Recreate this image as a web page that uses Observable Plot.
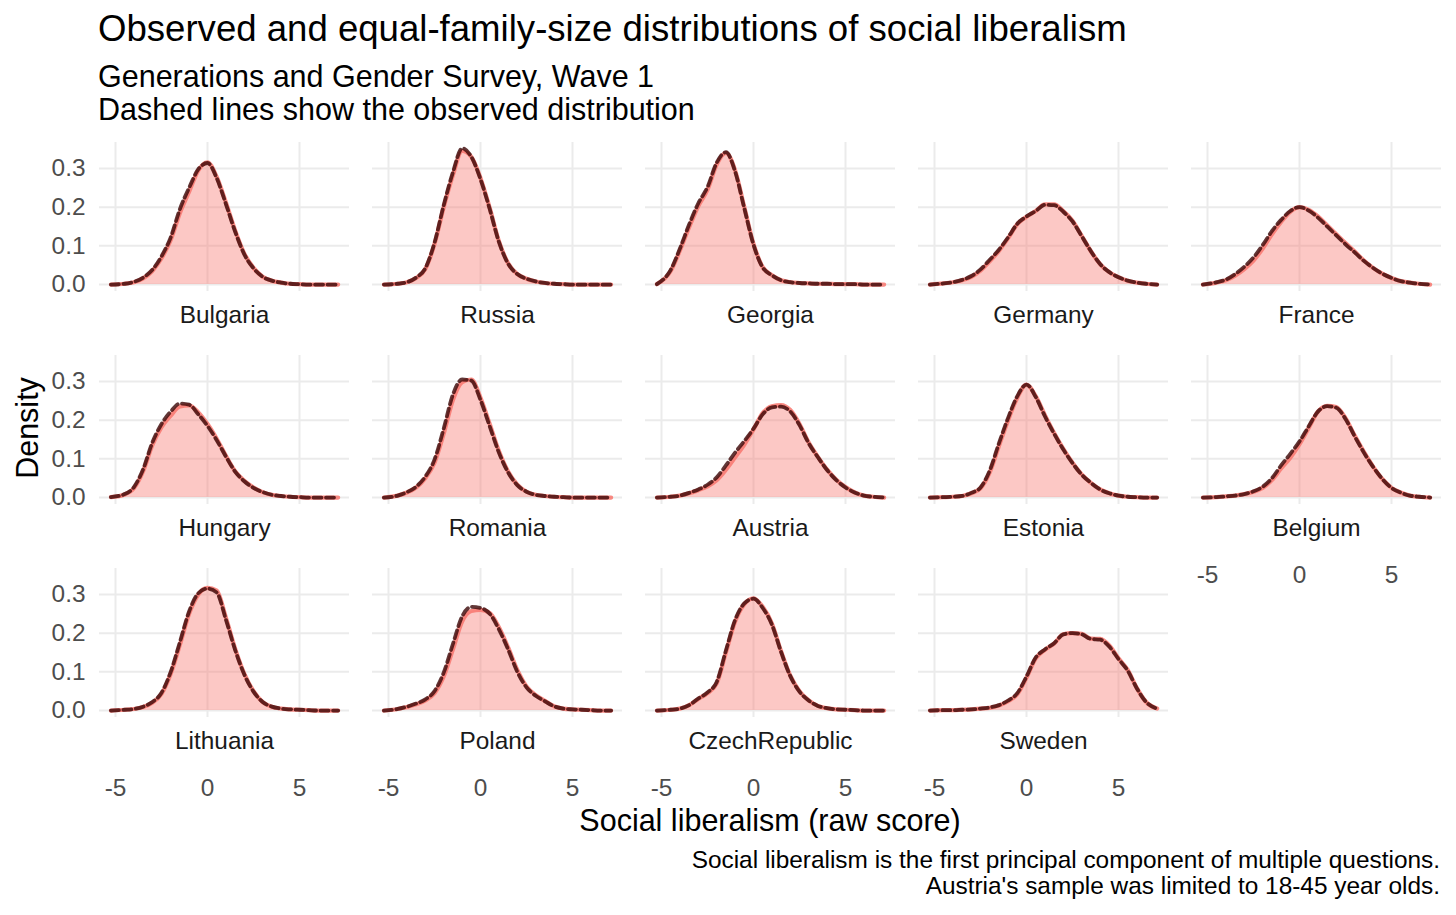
<!DOCTYPE html>
<html>
<head>
<meta charset="utf-8">
<script src="https://cdn.jsdelivr.net/npm/d3@7"></script>
<script src="https://cdn.jsdelivr.net/npm/@observablehq/plot@0.6"></script>
<style>
  body { margin: 0; background: #fff; }
  #wrap { position: relative; width: 1456px; height: 915px; font-family: "Liberation Sans", Arial, sans-serif; color: #000; }
  .abs { position: absolute; white-space: nowrap; }
</style>
</head>
<body>
<div id="wrap">
  <div class="abs" style="left:98px;top:11px;font-size:36.6px;line-height:36.6px;">Observed and equal-family-size distributions of social liberalism</div>
  <div class="abs" style="left:98px;top:60px;font-size:30.5px;line-height:33px;">Generations and Gender Survey, Wave 1<br>Dashed lines show the observed distribution</div>
  <div id="chart" class="abs" style="left:0;top:130px;"></div>
  <div class="abs" style="left:770px;top:805px;font-size:30.5px;line-height:30.5px;transform:translateX(-50%);">Social liberalism (raw score)</div>
  <div class="abs" style="left:27px;top:428px;font-size:30.5px;line-height:30.5px;transform:translate(-50%,-50%) rotate(-90deg);">Density</div>
  <div class="abs" style="right:16px;top:847px;font-size:24.4px;line-height:26px;text-align:right;">Social liberalism is the first principal component of multiple questions.<br>Austria's sample was limited to 18-45 year olds.</div>
</div>
<script>
// x grid of the density estimates (raw score)
const xs = [-5.25, -4.5, -4, -3.5, -3, -2.5, -2, -1.5, -1, -0.5, 0, 0.5, 1, 1.5, 2, 2.5, 3, 3.5, 4, 4.5, 5, 5.5, 6, 6.5, 7.1];

const countries = ["Bulgaria", "Russia", "Georgia", "Germany", "France",
  "Hungary", "Romania", "Austria", "Estonia", "Belgium",
  "Lithuania", "Poland", "CzechRepublic", "Sweden"];

// equal-family-size (solid) and observed (dashed) densities
const bulgariaEqual = [0, 0.002, 0.006, 0.016, 0.035, 0.068, 0.115, 0.185, 0.24, 0.295, 0.316, 0.278, 0.212, 0.14, 0.08, 0.043, 0.02, 0.01, 0.005, 0.002, 0.001, 0, 0, 0, 0];
const bulgariaObserved = [0, 0.002, 0.007, 0.018, 0.038, 0.073, 0.122, 0.195, 0.25, 0.298, 0.314, 0.275, 0.208, 0.137, 0.078, 0.042, 0.02, 0.01, 0.005, 0.002, 0.001, 0, 0, 0, 0];
const russiaEqual = [0, 0.002, 0.006, 0.017, 0.04, 0.105, 0.2, 0.283, 0.345, 0.33, 0.275, 0.198, 0.112, 0.055, 0.027, 0.015, 0.008, 0.004, 0.002, 0.001, 0, 0, 0, 0, 0];
const russiaObserved = [0, 0.002, 0.006, 0.018, 0.042, 0.108, 0.205, 0.29, 0.352, 0.33, 0.272, 0.195, 0.11, 0.054, 0.027, 0.015, 0.008, 0.004, 0.002, 0.001, 0, 0, 0, 0, 0];
const georgiaEqual = [0.001, 0.035, 0.088, 0.148, 0.203, 0.245, 0.31, 0.34, 0.295, 0.2, 0.105, 0.045, 0.024, 0.011, 0.006, 0.004, 0.003, 0.002, 0.002, 0.001, 0.001, 0.001, 0, 0, 0];
const georgiaObserved = [0.001, 0.038, 0.093, 0.155, 0.21, 0.252, 0.315, 0.342, 0.292, 0.197, 0.103, 0.044, 0.024, 0.011, 0.006, 0.004, 0.003, 0.002, 0.002, 0.001, 0.001, 0.001, 0, 0, 0];
const germanyEqual = [0, 0.003, 0.006, 0.011, 0.02, 0.036, 0.06, 0.087, 0.12, 0.156, 0.175, 0.19, 0.207, 0.207, 0.19, 0.165, 0.126, 0.086, 0.053, 0.032, 0.019, 0.01, 0.005, 0.002, 0];
const germanyObserved = [0, 0.003, 0.006, 0.012, 0.022, 0.039, 0.064, 0.09, 0.122, 0.157, 0.176, 0.19, 0.206, 0.205, 0.188, 0.163, 0.125, 0.086, 0.053, 0.032, 0.019, 0.01, 0.005, 0.002, 0];
const franceEqual = [0, 0.005, 0.011, 0.023, 0.04, 0.062, 0.093, 0.13, 0.162, 0.188, 0.2, 0.193, 0.176, 0.153, 0.13, 0.107, 0.085, 0.062, 0.043, 0.028, 0.017, 0.009, 0.005, 0.002, 0];
const franceObserved = [0, 0.006, 0.013, 0.027, 0.046, 0.07, 0.102, 0.138, 0.167, 0.19, 0.2, 0.191, 0.173, 0.15, 0.127, 0.104, 0.083, 0.061, 0.043, 0.028, 0.017, 0.009, 0.005, 0.002, 0];
const hungaryEqual = [0.001, 0.008, 0.024, 0.068, 0.135, 0.182, 0.212, 0.235, 0.238, 0.22, 0.19, 0.152, 0.108, 0.068, 0.043, 0.026, 0.014, 0.007, 0.004, 0.002, 0.001, 0, 0, 0, 0];
const hungaryObserved = [0.001, 0.009, 0.027, 0.073, 0.142, 0.19, 0.222, 0.243, 0.24, 0.215, 0.185, 0.148, 0.106, 0.067, 0.042, 0.025, 0.014, 0.007, 0.004, 0.002, 0.001, 0, 0, 0, 0];
const romaniaEqual = [0, 0.005, 0.013, 0.026, 0.05, 0.09, 0.165, 0.252, 0.298, 0.305, 0.258, 0.19, 0.12, 0.067, 0.033, 0.015, 0.007, 0.004, 0.002, 0.001, 0, 0, 0, 0, 0];
const romaniaObserved = [0, 0.005, 0.014, 0.028, 0.054, 0.098, 0.178, 0.266, 0.305, 0.302, 0.252, 0.184, 0.116, 0.065, 0.032, 0.015, 0.007, 0.004, 0.002, 0.001, 0, 0, 0, 0, 0];
const austriaEqual = [0, 0.002, 0.005, 0.011, 0.019, 0.029, 0.045, 0.072, 0.104, 0.137, 0.176, 0.218, 0.236, 0.239, 0.226, 0.19, 0.142, 0.105, 0.072, 0.046, 0.027, 0.013, 0.005, 0.002, 0];
const austriaObserved = [0, 0.002, 0.005, 0.012, 0.021, 0.033, 0.052, 0.083, 0.116, 0.146, 0.178, 0.215, 0.233, 0.235, 0.222, 0.187, 0.14, 0.104, 0.071, 0.045, 0.026, 0.013, 0.005, 0.002, 0];
const estoniaEqual = [0, 0.001, 0.002, 0.004, 0.011, 0.024, 0.065, 0.133, 0.2, 0.258, 0.292, 0.262, 0.213, 0.167, 0.126, 0.09, 0.06, 0.038, 0.021, 0.011, 0.005, 0.002, 0.001, 0, 0];
const estoniaObserved = [0, 0.001, 0.002, 0.004, 0.012, 0.026, 0.07, 0.14, 0.206, 0.262, 0.292, 0.26, 0.21, 0.165, 0.124, 0.089, 0.059, 0.038, 0.021, 0.011, 0.005, 0.002, 0.001, 0, 0];
const belgiumEqual = [0, 0.001, 0.003, 0.005, 0.009, 0.015, 0.025, 0.045, 0.075, 0.103, 0.138, 0.18, 0.222, 0.237, 0.234, 0.205, 0.16, 0.118, 0.08, 0.048, 0.025, 0.013, 0.005, 0.002, 0];
const belgiumObserved = [0, 0.001, 0.003, 0.005, 0.009, 0.016, 0.028, 0.05, 0.083, 0.113, 0.145, 0.184, 0.222, 0.236, 0.232, 0.203, 0.158, 0.116, 0.079, 0.048, 0.025, 0.013, 0.005, 0.002, 0];
const lithuaniaEqual = [0, 0.002, 0.004, 0.009, 0.02, 0.043, 0.095, 0.17, 0.25, 0.3, 0.317, 0.31, 0.24, 0.16, 0.095, 0.05, 0.022, 0.01, 0.005, 0.003, 0.002, 0.001, 0, 0, 0];
const lithuaniaObserved = [0, 0.002, 0.004, 0.01, 0.022, 0.046, 0.1, 0.177, 0.256, 0.303, 0.315, 0.305, 0.235, 0.157, 0.093, 0.049, 0.022, 0.01, 0.005, 0.003, 0.002, 0.001, 0, 0, 0];
const polandEqual = [0, 0.004, 0.009, 0.016, 0.026, 0.045, 0.088, 0.158, 0.23, 0.257, 0.26, 0.252, 0.215, 0.163, 0.105, 0.062, 0.04, 0.025, 0.011, 0.005, 0.003, 0.002, 0.001, 0, 0];
const polandObserved = [0, 0.004, 0.01, 0.018, 0.029, 0.05, 0.098, 0.172, 0.243, 0.268, 0.265, 0.25, 0.21, 0.158, 0.1, 0.06, 0.038, 0.024, 0.011, 0.005, 0.003, 0.002, 0.001, 0, 0];
const czechEqual = [0, 0.002, 0.005, 0.014, 0.03, 0.045, 0.07, 0.15, 0.23, 0.275, 0.29, 0.268, 0.225, 0.153, 0.09, 0.05, 0.026, 0.012, 0.006, 0.003, 0.002, 0.001, 0, 0, 0];
const czechObserved = [0, 0.002, 0.005, 0.014, 0.031, 0.047, 0.074, 0.155, 0.234, 0.277, 0.289, 0.265, 0.222, 0.151, 0.089, 0.049, 0.026, 0.012, 0.006, 0.003, 0.002, 0.001, 0, 0, 0];
const swedenEqual = [0, 0.001, 0.001, 0.002, 0.003, 0.005, 0.007, 0.013, 0.024, 0.042, 0.085, 0.135, 0.157, 0.173, 0.197, 0.2, 0.198, 0.186, 0.185, 0.168, 0.135, 0.105, 0.058, 0.022, 0.005];
const swedenObserved = [0, 0.001, 0.001, 0.002, 0.003, 0.005, 0.008, 0.014, 0.026, 0.045, 0.088, 0.137, 0.158, 0.174, 0.197, 0.2, 0.197, 0.185, 0.183, 0.165, 0.133, 0.103, 0.057, 0.022, 0.005];

const xTicks = [-5, 0, 5];
const yTicks = [0, 0.1, 0.2, 0.3];

const equalSeries = [bulgariaEqual, russiaEqual, georgiaEqual, germanyEqual, franceEqual,
  hungaryEqual, romaniaEqual, austriaEqual, estoniaEqual, belgiumEqual,
  lithuaniaEqual, polandEqual, czechEqual, swedenEqual];
const observedSeries = [bulgariaObserved, russiaObserved, georgiaObserved, germanyObserved, franceObserved,
  hungaryObserved, romaniaObserved, austriaObserved, estoniaObserved, belgiumObserved,
  lithuaniaObserved, polandObserved, czechObserved, swedenObserved];

function toRows(series) {
  const rows = [];
  countries.forEach((c, i) => {
    series[i].forEach((v, j) => rows.push({country: c, col: i % 5, row: Math.floor(i / 5), x: xs[j], y: v}));
  });
  return rows;
}
const equalRows = toRows(equalSeries);
const observedRows = toRows(observedSeries);
const labelRows = countries.map((c, i) => ({country: c, col: i % 5, row: Math.floor(i / 5)}));

const chart = Plot.plot({
  width: 1456,
  height: 672,
  marginLeft: 99,
  marginRight: 15,
  marginTop: 12,
  marginBottom: 85,
  style: {fontFamily: "'Liberation Sans', Arial, sans-serif", fontSize: "24.4px", background: "transparent", overflow: "visible"},
  fx: {domain: [0, 1, 2, 3, 4], paddingInner: 23 / 273, paddingOuter: 0, axis: null},
  fy: {domain: [0, 1, 2], paddingInner: 64 / 213, paddingOuter: 0, axis: null},
  x: {domain: [-5.87, 7.717], axis: null},
  y: {domain: [-0.018, 0.367], axis: null},
  marks: [
    Plot.gridX(xTicks, {stroke: "#EBEBEB", strokeOpacity: 1, strokeWidth: 2}),
    Plot.gridY(yTicks, {stroke: "#EBEBEB", strokeOpacity: 1, strokeWidth: 2}),
    Plot.areaY(equalRows, {x: "x", y: "y", z: "country", fx: "col", fy: "row", fill: "#F8766D", fillOpacity: 0.4, curve: "monotone-x"}),
    Plot.line(equalRows, {x: "x", y: "y", z: "country", fx: "col", fy: "row", stroke: "#F8766D", strokeOpacity: 0.85, strokeWidth: 4.2, curve: "monotone-x"}),
    Plot.line(observedRows, {x: "x", y: "y", z: "country", fx: "col", fy: "row", stroke: "#3a0505", strokeOpacity: 0.8, strokeWidth: 3.8, strokeDasharray: "8,4.5", curve: "monotone-x"}),
    Plot.text(labelRows, {fx: "col", fy: "row", text: "country", frameAnchor: "bottom", dy: 31, fill: "#1A1A1A", fontSize: 24.4}),
    Plot.axisX(xTicks, {tickSize: 0, tickPadding: 61, tickFormat: d => String(d), color: "#4D4D4D", label: null, facetAnchor: "bottom-empty", fontSize: 24.4}),
    Plot.axisY(yTicks, {tickSize: 0, tickPadding: 14, tickFormat: d3.format(".1f"), color: "#4D4D4D", label: null, facetAnchor: "left", fontSize: 24.4})
  ]
});
document.getElementById("chart").appendChild(chart);
</script>
</body>
</html>
